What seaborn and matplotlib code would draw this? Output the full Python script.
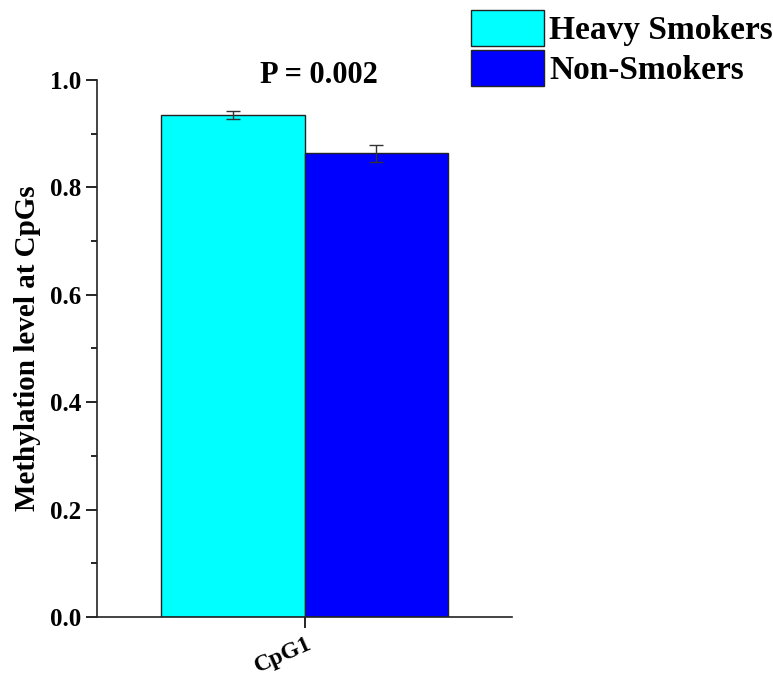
#!/usr/bin/env python3
# -*- coding: utf-8 -*-

import matplotlib as mpl
import matplotlib.pyplot as plt
import matplotlib.transforms as mtransforms
import pandas as pd
import seaborn as sns

mpl.use("Agg")

sns.set_style("ticks")
mpl.rcParams["font.family"] = ["Liberation Serif", "DejaVu Serif"]
mpl.rcParams["font.weight"] = "bold"
mpl.rcParams["text.color"] = "black"
mpl.rcParams["axes.labelcolor"] = "black"
mpl.rcParams["xtick.color"] = "black"
mpl.rcParams["ytick.color"] = "black"

# data
sites = ["CpG1"]
groups = ["Heavy Smokers", "Non-Smokers"]
means = [0.935, 0.863]
errs = [0.007, 0.016]
colors = ["#00FFFF", "#0000FF"]
p_text = "P = 0.002"
yticks = [0.0, 0.2, 0.4, 0.6, 0.8, 1.0]

df = pd.DataFrame({"site": sites * len(groups), "group": groups, "value": means})

fig = plt.figure(figsize=(7.73, 6.79), dpi=100)
ax = fig.add_axes([0.1255, 0.0913, 0.537, 0.791])

sns.barplot(
    data=df,
    x="site",
    y="value",
    hue="group",
    hue_order=groups,
    palette=colors,
    width=0.69,
    edgecolor="#222222",
    linewidth=1.0,
    saturation=1,
    errorbar=None,
    ax=ax,
)

# error bars on the centre of each bar
bars = ax.patches[: len(groups)]
xs = [p.get_x() + p.get_width() / 2 for p in bars]
ys = [p.get_height() for p in bars]
ax.errorbar(xs, ys, yerr=errs, fmt="none", ecolor="#333333", elinewidth=1.0,
            capsize=5, capthick=1.0)

ax.set_xlim(-0.5, 0.5)
ax.set_ylim(0, 1.0)
ax.set_yticks(yticks)
ax.yaxis.set_minor_locator(mpl.ticker.MultipleLocator(0.1))
ax.yaxis.set_major_formatter(mpl.ticker.FormatStrFormatter("%.1f"))
ax.tick_params(axis="y", which="major", length=8, width=1.2, labelsize=18, pad=3)
ax.tick_params(axis="y", which="minor", length=4, width=1.2)
ax.tick_params(axis="x", length=8, width=1.2, labelsize=17, pad=4)
shift = mtransforms.ScaledTranslation(0.10, 0, fig.dpi_scale_trans)
for lbl in ax.get_xticklabels():
    lbl.set_rotation(24)
    lbl.set_ha("right")
    lbl.set_va("top")
    lbl.set_rotation_mode("default")
    lbl.set_fontweight("bold")
    lbl.set_transform(lbl.get_transform() + shift)
for lbl in ax.get_yticklabels():
    lbl.set_fontweight("bold")

sns.despine(ax=ax)
for s in ["left", "bottom"]:
    ax.spines[s].set_linewidth(1.2)
    ax.spines[s].set_color("#222222")

ax.set_xlabel("")
ax.set_ylabel("Methylation level at CpGs", fontsize=21, fontweight="bold", labelpad=7)

ax.text(0.035, 0.994, p_text, ha="center", va="baseline", fontsize=22, fontweight="bold",
        transform=ax.get_xaxis_transform())

sns.move_legend(
    ax,
    "upper left",
    bbox_to_anchor=(0.609, 0.986),
    bbox_transform=fig.transFigure,
    title=None,
    frameon=False,
    fontsize=24,
    handlelength=2.2,
    handleheight=1.3,
    labelspacing=0.12,
    handletextpad=0.15,
    borderaxespad=0.0,
    borderpad=0.0,
)
for t in ax.get_legend().get_texts():
    t.set_fontweight("bold")

fig.savefig("out.png", dpi=100)
